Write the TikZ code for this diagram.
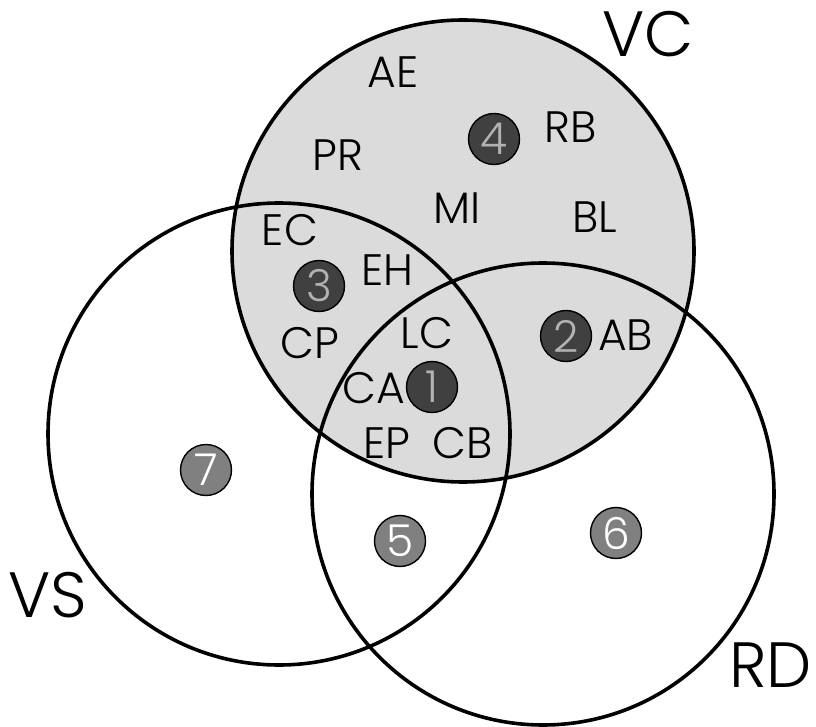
\documentclass[tikz,border=0pt]{standalone}
\usepackage{fontspec}
\IfFontExistsTF{Poppins Light}{\setmainfont{Poppins Light}}{\setmainfont{Poppins}}
\begin{document}
\begin{tikzpicture}[x=1pt,y=-1pt,
  ring/.style={circle, draw=black, line width=3.6pt, minimum size=462pt, inner sep=0pt},
  lbl/.style={inner sep=0pt, font=\fontsize{44}{44}\selectfont},
  setlbl/.style={inner sep=0pt, font=\fontsize{64}{64}\selectfont},
  darkdot/.style={circle, draw=black, line width=1.4pt, fill=black!75, minimum size=51pt, inner sep=0pt, text=black!30, font=\fontsize{44}{44}\selectfont},
  lightdot/.style={circle, draw=black, line width=1.4pt, fill=black!50, minimum size=51pt, inner sep=0pt, text=white, font=\fontsize{44}{44}\selectfont}]
\useasboundingbox (0,0) rectangle (816,727);
% sets
\node[ring, fill=black!14] (vc) at (463,251) {};
\node[ring] (vs) at (279,434) {};
\node[ring] (rd) at (543,494) {};
% set names
\node[setlbl] (lvc) at (648,34) {VC};
\node[setlbl, anchor=west] (lvs) at (8,595) {VS};
\node[setlbl, anchor=east] (lrd) at (812,665) {RD};
% item labels
\node[lbl] (ae) at (393,72) {AE};
\node[lbl] (rb) at (571,127) {RB};
\node[lbl] (pr) at (338,155) {PR};
\node[lbl] (mi) at (457,208) {MI};
\node[lbl] (bl) at (595,217) {BL};
\node[lbl] (ec) at (290,230) {EC};
\node[lbl] (eh) at (387,270) {EH};
\node[lbl] (cp) at (310,343) {CP};
\node[lbl] (lc) at (427,333) {LC};
\node[lbl, anchor=east] (ca) at (405,388) {CA};
\node[lbl, anchor=east] (ep) at (411,443) {EP};
\node[lbl, anchor=west] (cb) at (432,443) {CB};
\node[lbl, anchor=west] (ab) at (598,335) {AB};
% numbered dots
\node[darkdot] (d1) at (432,387) {1};
\node[darkdot] (d2) at (566,336) {2};
\node[darkdot] (d3) at (319,286) {3};
\node[darkdot] (d4) at (494,139) {4};
\node[lightdot] (d5) at (400,541) {5};
\node[lightdot] (d6) at (616,533) {6};
\node[lightdot] (d7) at (206,470) {7};
\end{tikzpicture}
\end{document}
